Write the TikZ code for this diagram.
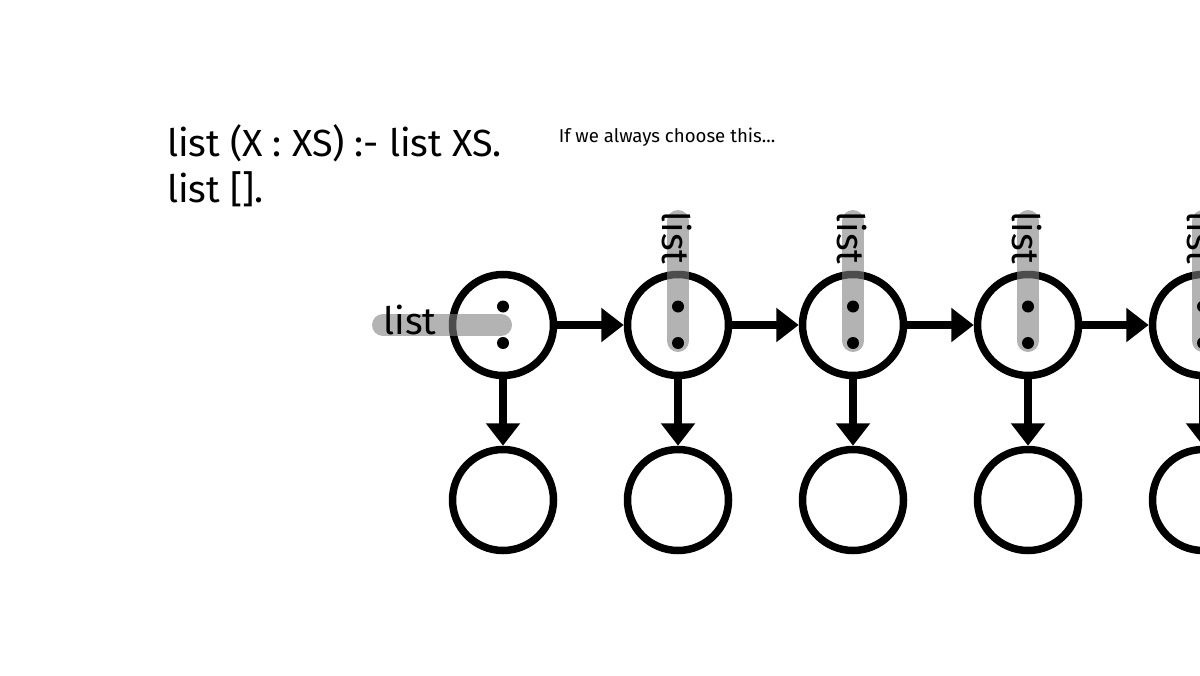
\documentclass[tikz,border=0pt]{standalone}
\usepackage{fontspec}
\setmainfont{Fira Sans}
\usetikzlibrary{arrows.meta, positioning}

\begin{document}
\begin{tikzpicture}[%
    >= { Triangle[length=0.45cm, width=0.66cm] },
    node distance = 3.5cm,
    on grid,
    line width = 0.15cm,
    cell/.style = {%
      circle,
      draw,
      minimum size = 2.02cm,
      inner sep = 0pt },
    trace/.style = {%
      draw = black!50,
      draw opacity = 0.6,
      line width = 0.44cm,
      line cap = round },
    goal/.style = {%
      font = \fontsize{21.5}{25}\selectfont,
      inner sep = 0pt }
  ]

\useasboundingbox (0,0) rectangle (24,13.5);
\clip (0,0) rectangle (24,13.5);

% the program
\node[goal, anchor=base west] (rule1) at (3.27,10.36) {list (X : XS) :- list XS.};
\node[goal, anchor=base west] (rule2) at (3.27,9.46) {list [].};
\node[anchor=base west, inner sep=0pt, font=\fontsize{10.6}{13}\selectfont] (note) at (11.1,10.64) {If we always choose this...};

% the cons cells
\node[cell] (t1) at (10.06,7) {};
\node[cell] (t2) [right=of t1] {};
\node[cell] (t3) [right=of t2] {};
\node[cell] (t4) [right=of t3] {};
\node[cell] (t5) [right=of t4] {};

\node[cell] (b1) [below=of t1] {};
\node[cell] (b2) [below=of t2] {};
\node[cell] (b3) [below=of t3] {};
\node[cell] (b4) [below=of t4] {};
\node[cell] (b5) [below=of t5] {};

\path[->]
(t1) edge (t2)
edge (b1)
(t2) edge (t3)
edge (b2)
(t3) edge (t4)
edge (b3)
(t4) edge (t5)
edge (b4)
(t5) edge (b5);

% the goals
\draw[trace] ([xshift=-2.4cm]t1.center) -- ([xshift=-0.04cm]t1.center);
\foreach \i in {2,...,5}
  \draw[trace] ([yshift=2.08cm]t\i.center) -- ([yshift=-0.32cm]t\i.center);

\foreach \i in {1,...,5} {
  \fill ([yshift=0.37cm]t\i.center) circle (0.12);
  \fill ([yshift=-0.36cm]t\i.center) circle (0.12);
}

\node[goal] (g1) at ([xshift=-1.86cm, yshift=0.1cm]t1.center) {list};
\foreach \i in {2,...,5}
  \node[goal, rotate=-90] (g\i) at ([xshift=-0.02cm, yshift=1.74cm]t\i.center) {list};

\end{tikzpicture}
\end{document}
